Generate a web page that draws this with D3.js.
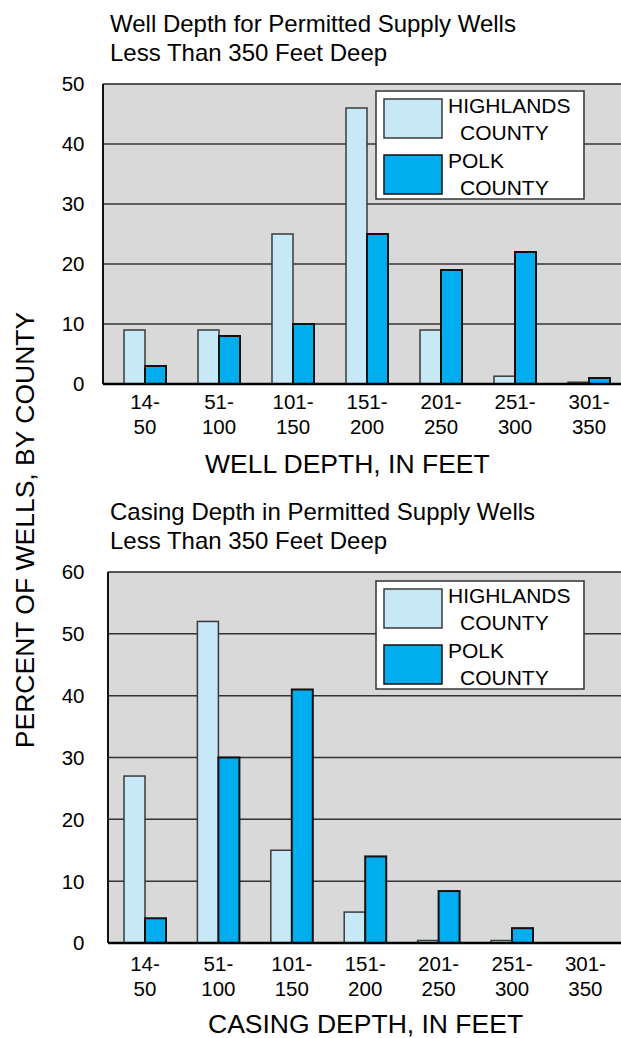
<!DOCTYPE html>
<html lang="en">
<head>
<meta charset="UTF-8"/>
<title>Well and Casing Depth</title>
<script src="https://d3js.org/d3.v7.min.js"></script>
<style>
	body { margin:0; background:#fff; }
	svg text { font-family:"Liberation Sans", Arial, Helvetica, sans-serif; fill:#000; }
</style>
</head>
<body>
<script>

	var w=621;
	var h=1038;

	// data (percent of wells)
	var categories=["14-50","51-100","101-150","151-200","201-250","251-300","301-350"];
	var tickLines=[["14-","50"],["51-","100"],["101-","150"],["151-","200"],["201-","250"],["251-","300"],["301-","350"]];
	var counties=["HIGHLANDS","POLK"];

	var wellHighlands=[9,9,25,46,9,1.3,0.3];
	var wellPolk=[3,8,10,25,19,22,1];
	var wellTicks=[0,10,20,30,40,50];

	var casingHighlands=[27,52,15,5,0.4,0.4,0];
	var casingPolk=[4,30,41,14,8.4,2.4,0];
	var casingTicks=[0,10,20,30,40,50,60];

	var colors={HIGHLANDS:"#c7e8f7",POLK:"#00aeef"};
	var strokes={HIGHLANDS:"#3a3a3a",POLK:"#111"};

	var svg=d3.select("body")
		.append("svg")
		.attr("width",w)
		.attr("height",h);

	function panel(opt){
		var g=svg.append("g");

		var yScale=d3.scaleLinear()
			.domain([0,d3.max(opt.ticks)])
			.range([opt.bottom,opt.top]);

		var xScale=d3.scaleBand()
			.domain(categories)
			.range([opt.barStart,opt.barStart+opt.step*categories.length]);

		var xSub=d3.scaleBand()
			.domain(counties)
			.range([21,63]);

		// plot background
		g.append("rect")
			.attr("x",opt.left)
			.attr("y",opt.top)
			.attr("width",w-opt.left)
			.attr("height",opt.bottom-opt.top)
			.attr("fill","#d9d9d9");

		// gridlines
		g.selectAll(".grid")
			.data(opt.ticks.slice(1))
			.enter()
			.append("line")
			.attr("x1",opt.left)
			.attr("x2",w)
			.attr("y1",function(d){ return yScale(d); })
			.attr("y2",function(d){ return yScale(d); })
			.attr("stroke",function(d,i){ return i==opt.ticks.length-2 ? "#222" : "#333"; })
			.attr("stroke-width",1.5);

		// y tick labels
		g.selectAll(".ytick")
			.data(opt.ticks)
			.enter()
			.append("text")
			.attr("x",84.5)
			.attr("y",function(d){ return yScale(d); })
			.attr("dy","0.36em")
			.attr("text-anchor","end")
			.style("font-size","20.5px")
			.text(function(d){ return d; });

		// bars
		var rows=categories.map(function(c,i){
			return {cat:c,HIGHLANDS:opt.highlands[i],POLK:opt.polk[i]};
		});

		var grp=g.selectAll(".grp")
			.data(rows)
			.enter()
			.append("g")
			.attr("transform",function(d){ return "translate("+xScale(d.cat)+",0)"; });

		grp.selectAll("rect")
			.data(function(d){ return counties.map(function(k){ return {key:k,value:d[k]}; }); })
			.enter()
			.append("rect")
			.filter(function(d){ return d.value>0; })
			.attr("x",function(d){ return xSub(d.key); })
			.attr("width",xSub.bandwidth())
			.attr("y",function(d){ return yScale(d.value); })
			.attr("height",function(d){ return opt.bottom-yScale(d.value); })
			.attr("fill",function(d){ return colors[d.key]; })
			.attr("stroke",function(d){ return strokes[d.key]; })
			.attr("stroke-width",function(d){ return d.key=="POLK" ? 2 : 1.5; });

		// frame
		g.append("line")
			.attr("x1",opt.left).attr("x2",opt.left)
			.attr("y1",opt.top).attr("y2",opt.bottom)
			.attr("stroke","#111").attr("stroke-width",2);
		g.append("line")
			.attr("x1",opt.left).attr("x2",w)
			.attr("y1",opt.bottom).attr("y2",opt.bottom)
			.attr("stroke","#000").attr("stroke-width",2.5);

		// legend
		var lg=g.append("g")
			.attr("transform","translate(376,"+(opt.top+opt.legendDy)+")");
		lg.append("rect")
			.attr("width",208).attr("height",108)
			.attr("fill","#fff").attr("stroke","#333").attr("stroke-width",1.5);
		counties.forEach(function(k,i){
			lg.append("rect")
				.attr("x",8).attr("y",8+i*56)
				.attr("width",58).attr("height",39)
				.attr("fill",colors[k]).attr("stroke",strokes[k]).attr("stroke-width",1.5);
			lg.append("text")
				.attr("x",72).attr("y",22+i*55)
				.style("font-size","21px")
				.text(k);
			lg.append("text")
				.attr("x",84).attr("y",49+i*55)
				.style("font-size","21px")
				.text("COUNTY");
		});

		// x tick labels (two lines), centred under each bar pair
		var xl=g.selectAll(".xtick")
			.data(tickLines)
			.enter()
			.append("text")
			.attr("text-anchor","middle")
			.style("font-size","20.5px");
		xl.append("tspan")
			.attr("x",function(d,i){ return xScale(categories[i])+xSub.range()[1]/1.5; })
			.attr("y",opt.bottom+opt.labelDy)
			.text(function(d){ return d[0]; });
		xl.append("tspan")
			.attr("x",function(d,i){ return xScale(categories[i])+xSub.range()[1]/1.5; })
			.attr("y",opt.bottom+opt.labelDy+25)
			.text(function(d){ return d[1]; });

		// x axis title
		g.append("text")
			.attr("x",opt.titleX)
			.attr("y",opt.bottom+opt.titleDy)
			.style("font-size","26.5px")
			.text(opt.xTitle);

		// chart title
		opt.heading.forEach(function(t,i){
			g.append("text")
				.attr("x",110)
				.attr("y",opt.top-52+i*28.5)
				.style("font-size","24px")
				.text(t);
		});
	}

	panel({
		top:84,bottom:384,left:103,
		barStart:103,step:74,
		labelDy:25,
		legendDy:7,
		ticks:wellTicks,
		highlands:wellHighlands,polk:wellPolk,
		xTitle:"WELL DEPTH, IN FEET",titleX:205,titleDy:88.5,
		heading:["Well Depth for Permitted Supply Wells","Less Than 350 Feet Deep"]
	});

	panel({
		top:572,bottom:943,left:108,
		barStart:103,step:73.4,
		labelDy:28,
		legendDy:9,
		ticks:casingTicks,
		highlands:casingHighlands,polk:casingPolk,
		xTitle:"CASING DEPTH, IN FEET",titleX:208,titleDy:90,
		heading:["Casing Depth in Permitted Supply Wells","Less Than 350 Feet Deep"]
	});

	// shared y axis title
	svg.append("text")
		.attr("transform","translate(34,530) rotate(-90)")
		.attr("text-anchor","middle")
		.style("font-size","26.5px")
		.text("PERCENT OF WELLS, BY COUNTY");

</script>
</body>
</html>
